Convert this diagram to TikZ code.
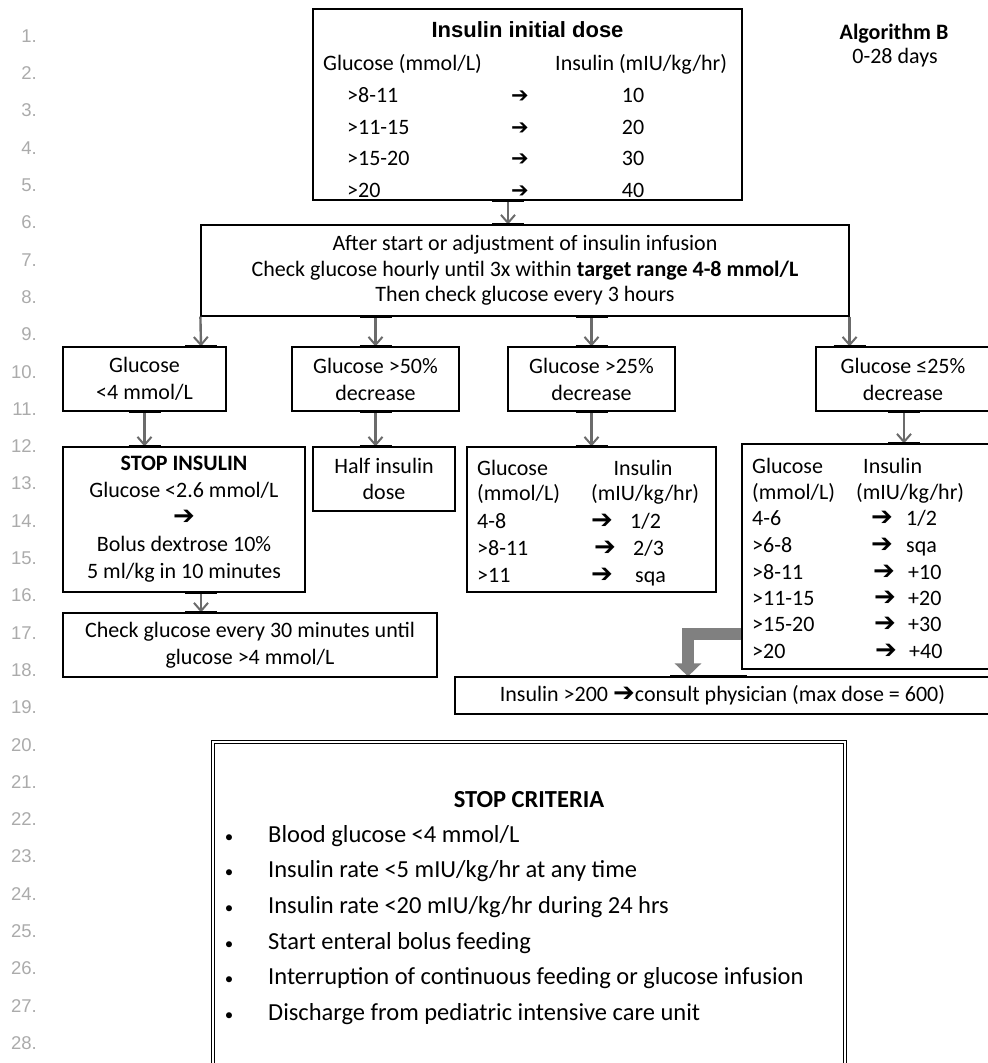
\documentclass[tikz,border=0pt]{standalone}
\usepackage{fontspec}
\setmainfont{Carlito}
\newfontfamily\arialf{Liberation Sans}
\newfontfamily\dejavu{DejaVu Sans}
\usetikzlibrary{arrows.meta}
\newcommand\myarr{{\dejavu\bfseries\fontsize{26}{26}\selectfont ➔}}
\newcommand\myarrs{{\dejavu\bfseries\fontsize{21}{21}\selectfont ➔}}
\newcommand\fs{\fontsize{22}{27}\selectfont}
\newcommand\fsb{\fontsize{24.5}{30}\selectfont}
\newcommand\tk[1]{\draw[tick] ([xshift=-16pt]#1) -- ([xshift=16pt]#1);}
\begin{document}
\begin{tikzpicture}[x=1pt,y=-1pt,
  box/.style={draw=black,line width=1.2pt,rectangle,inner sep=0pt,align=center,font=\fs},
  txt/.style={inner sep=0pt,font=\fs,yshift=-5pt},
  conn/.style={draw=black!58,line width=2.4pt,-{Straight Barb[length=8pt,width=14pt,line width=2pt]}},
  tick/.style={draw=black,line width=2.8pt},
  bigarrow/.style={draw=black!50,line width=12pt,line join=miter,-{Triangle[length=13pt,width=26pt]}},
  lnum/.style={anchor=east,inner sep=0pt,text=black!33,font=\arialf\fontsize{18.5}{18.5}\selectfont},
]
\useasboundingbox (0,0) rectangle (988,1063);
\fill[white] (0,0) rectangle (988,1063);

% line numbers
\foreach \n in {1,...,28} { \node[lnum] (ln\n) at (37,{36+37.3*(\n-1)}) {\n.}; }

% title
\node[txt,anchor=mid,font=\bfseries\fs] (alg) at (894,32) {Algorithm B};
\node[txt,anchor=mid] (days) at (895,56) {0-28 days};

% initial dose box
\node[box,minimum width=429,minimum height=191] (init) at (527.5,104.5) {};
\node[txt,anchor=mid,font=\arialf\bfseries\fontsize{22}{22}\selectfont] (ti) at (527.5,30) {Insulin initial dose};
\node[txt,anchor=mid west] (tg) at (323,63) {Glucose (mmol/L)};
\node[txt,anchor=mid west] (tu) at (555,63) {Insulin (mIU/kg/hr)};
\foreach \g/\v [count=\i] in {>8-11/10,>11-15/20,>15-20/30,>20/40} {
  \node[txt,anchor=mid west] (rg\i) at (347,{95+31.7*(\i-1)}) {\g};
  \node[txt,anchor=mid] (ra\i) at (520,{95+31.7*(\i-1)}) {\myarrs};
  \node[txt,anchor=mid] (rv\i) at (633,{95+31.7*(\i-1)}) {\v};
}

% check box
\node[box,minimum width=648,minimum height=91,font=\fontsize{22}{25.5}\selectfont] (check) at (525,270.5)
  {After start or adjustment of insulin infusion\\Check glucose hourly until 3x within \textbf{target range 4-8 mmol/L}\\Then check glucose every 3 hours};

% branch boxes
\node[box,minimum width=163,minimum height=64] (b1) at (144.5,379) {Glucose\\<4 mmol/L};
\node[box,minimum width=167,minimum height=64] (b2) at (375.5,379) {Glucose >50\%\\decrease};
\node[box,minimum width=167,minimum height=64] (b3) at (591.5,379) {Glucose >25\%\\decrease};
\node[box,minimum width=174,minimum height=64] (b4) at (903,379) {Glucose ≤25\%\\decrease};

% second row
\node[box,minimum width=242,minimum height=145] (s1) at (184,519.5)
  {\textbf{STOP INSULIN}\\Glucose <2.6 mmol/L\\\myarr\\Bolus dextrose 10\%\\5 ml/kg in 10 minutes};
\node[box,minimum width=142,minimum height=64,font=\fontsize{22}{26}\selectfont] (s2) at (384,479) {Half insulin\\dose};

\node[box,minimum width=249,minimum height=145] (s3) at (591.5,519.5) {};
\node[txt,anchor=mid west] (s3g) at (477,468) {Glucose};
\node[txt,anchor=mid] (s3i) at (643,468) {Insulin};
\node[txt,anchor=mid west] (s3gu) at (477,493) {(mmol/L)};
\node[txt,anchor=mid west] (s3iu) at (591,493) {(mIU/kg/hr)};
\node[txt,anchor=mid west] (s3r1) at (477,521) {4-8};
\node[txt,anchor=mid] (s3a1) at (602,521) {\myarr};
\node[txt,anchor=mid west] (s3v1) at (630,521) {1/2};
\node[txt,anchor=mid west] (s3r2) at (477,548) {>8-11};
\node[txt,anchor=mid] (s3a2) at (605,548) {\myarr};
\node[txt,anchor=mid west] (s3v2) at (633,548) {2/3};
\node[txt,anchor=mid west] (s3r3) at (477,575) {>11};
\node[txt,anchor=mid] (s3a3) at (602,575) {\myarr};
\node[txt,anchor=mid west] (s3v3) at (635,575) {sqa};

\node[box,minimum width=248,minimum height=225] (s4) at (866,556.5) {};
\node[txt,anchor=mid west] (s4g) at (752,466) {Glucose};
\node[txt,anchor=mid west] (s4i) at (863,466) {Insulin};
\node[txt,anchor=mid west] (s4gu) at (752,492) {(mmol/L)};
\node[txt,anchor=mid west] (s4iu) at (856,492) {(mIU/kg/hr)};
\node[txt,anchor=mid west] (s4r1) at (752,518) {4-6};
\node[txt,anchor=mid] (s4a1) at (882,518) {\myarr};
\node[txt,anchor=mid west] (s4v1) at (906,518) {1/2};
\node[txt,anchor=mid west] (s4r2) at (752,545) {>6-8};
\node[txt,anchor=mid] (s4a2) at (882,545) {\myarr};
\node[txt,anchor=mid west] (s4v2) at (906,545) {sqa};
\node[txt,anchor=mid west] (s4r3) at (752,572) {>8-11};
\node[txt,anchor=mid] (s4a3) at (884,572) {\myarr};
\node[txt,anchor=mid west] (s4v3) at (908,572) {+10};
\node[txt,anchor=mid west] (s4r4) at (752,598) {>11-15};
\node[txt,anchor=mid] (s4a4) at (885,598) {\myarr};
\node[txt,anchor=mid west] (s4v4) at (908,598) {+20};
\node[txt,anchor=mid west] (s4r5) at (752,624) {>15-20};
\node[txt,anchor=mid] (s4a5) at (885,624) {\myarr};
\node[txt,anchor=mid west] (s4v5) at (908,624) {+30};
\node[txt,anchor=mid west] (s4r6) at (752,651) {>20};
\node[txt,anchor=mid] (s4a6) at (886,651) {\myarr};
\node[txt,anchor=mid west] (s4v6) at (909,651) {+40};

% third row
\node[box,minimum width=374,minimum height=64] (c30) at (250,645) {Check glucose every 30 minutes until\\glucose >4 mmol/L};
\node[box,minimum width=535,minimum height=37] (phys) at (722.5,695.5) {Insulin >200 \myarr{}consult physician (max dose = 600)};

% stop criteria
\node[draw=black,line width=0.9pt,double,double distance=2.6pt,rectangle,inner sep=0pt,minimum width=632,minimum height=340] (stop) at (529,912) {};
\node[txt,anchor=mid,font=\bfseries\fsb] (sc) at (529,800) {STOP CRITERIA};
\foreach \t [count=\i] in {Blood glucose <4 mmol/L,Insulin rate <5 mIU/kg/hr at any time,Insulin rate <20 mIU/kg/hr during 24 hrs,Start enteral bolus feeding,Interruption of continuous feeding or glucose infusion,Discharge from pediatric intensive care unit} {
  \node[txt,anchor=mid,font=\fontsize{17}{17}\selectfont] (bu\i) at (229,{835+35.6*(\i-1)}) {•};
  \node[txt,anchor=mid west,font=\fsb] (it\i) at (268,{835+35.6*(\i-1)}) {\t};
}

% connectors
\coordinate (x508) at (508,0);
\coordinate (x201) at (201,0);
\coordinate (x904) at (904,0);
\coordinate (ey) at (0,634);
\coordinate (ex) at (688,0);
\coordinate (t1) at (670,0);
\coordinate (t2) at (747,0);
\draw[conn] (init.south -| x508) -- (check.north -| x508);
\draw[conn] (check.south west) -- (b1.north -| x201);
\draw[conn] (check.south -| b2.north) -- (b2.north);
\draw[conn] (check.south -| b3.north) -- (b3.north);
\draw[conn] (check.south east) -- (b4.north -| check.south east);
\draw[conn] (b1.south) -- (s1.north -| b1.south);
\draw[conn] (b2.south) -- (s2.north -| b2.south);
\draw[conn] (b3.south) -- (s3.north -| b3.south);
\draw[conn] (b4.south -| x904) -- (s4.north -| x904);
\draw[conn] (s1.south -| x201) -- (c30.north -| x201);
\draw[bigarrow] (s4.west |- ey) -| (phys.north -| ex);

% connection ticks
\coordinate (k1) at (init.south -| x508);
\coordinate (k2) at (check.north -| x508);
\coordinate (k3) at (check.south -| b2.north);
\coordinate (k4) at (check.south -| b3.north);
\coordinate (k5) at (b1.north -| x201);
\coordinate (k6) at (b2.north);
\coordinate (k7) at (b3.north);
\coordinate (k8) at (b4.north -| check.south east);
\coordinate (k9) at (b1.south);
\coordinate (k10) at (s1.north -| b1.south);
\coordinate (k11) at (b2.south);
\coordinate (k12) at (s2.north -| b2.south);
\coordinate (k13) at (b3.south);
\coordinate (k14) at (s3.north -| b3.south);
\coordinate (k15) at (b4.south -| x904);
\coordinate (k16) at (s4.north -| x904);
\coordinate (k17) at (s1.south -| x201);
\coordinate (k18) at (c30.north -| x201);
\foreach \k in {1,...,18} { \tk{k\k} }
\draw[tick] (phys.north -| t1) -- (phys.north -| t2);
\end{tikzpicture}
\end{document}
